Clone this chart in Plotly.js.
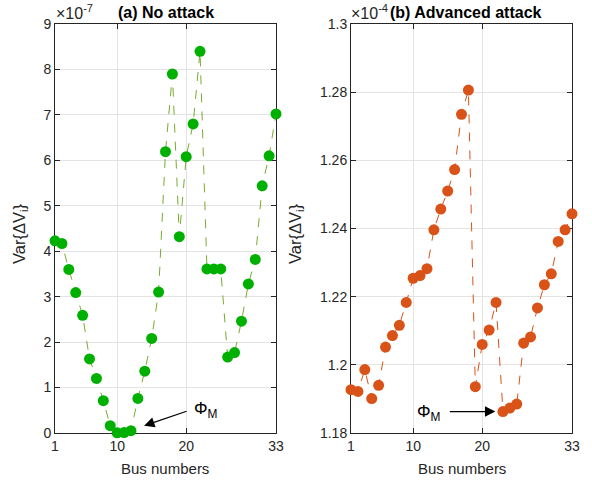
<!DOCTYPE html>
<html><head><meta charset="utf-8">
<script src="https://cdn.plot.ly/plotly-3.0.1.min.js"></script>
<style>html,body{margin:0;padding:0;background:#fff}#chart{width:592px;height:481px}</style>
</head><body><div id="chart"></div>
<script>
const buses = Array.from({length:33},(_,i)=>i+1);
// (a) No attack, Var{ΔV_i} in units of 1e-7
const noAttack = [4.23,4.17,3.60,3.09,2.59,1.63,1.20,0.71,0.16,0.005,0.01,0.05,0.76,1.36,2.08,3.10,6.19,7.90,4.32,6.08,6.80,8.40,3.61,3.61,3.61,1.67,1.77,2.46,3.28,3.82,5.44,6.10,7.02];
// (b) Advanced attack, Var{ΔV_i} in units of 1e-4
const advAttack = [1.1927,1.1922,1.1986,1.1901,1.1940,1.2052,1.2086,1.2116,1.2183,1.2254,1.2262,1.2282,1.2396,1.2457,1.2510,1.2573,1.2735,1.2806,1.1936,1.2060,1.2102,1.2183,1.1863,1.1873,1.1885,1.2064,1.2082,1.2167,1.2235,1.2267,1.2362,1.2396,1.2443];
const xTicks = [1,10,20,33];
const yTicksA = [0,1,2,3,4,5,6,7,8,9];
const yTicksB = [1.18,1.2,1.22,1.24,1.26,1.28,1.3];
const yTickTextB = ['1.18','1.2','1.22','1.24','1.26','1.28','1.3'];

const fam = 'Liberation Sans, Arial, Helvetica, sans-serif';
const font = {family:fam, size:14, color:'#262626'};
const labFont = {family:fam, size:15, color:'#262626'};
const yLabFont = {family:fam, size:16.5, color:'#262626'};
const expFont = {family:fam, size:16, color:'#262626'};
const titleFont = {family:fam, size:16, color:'#000'};
const phiFont = {family:fam, size:17, color:'#000'};
const traces = [
 {x:buses, y:noAttack, xaxis:'x', yaxis:'y', mode:'lines+markers', cliponaxis:false,
  line:{color:'#77ac30', width:1, dash:'dash'},
  marker:{color:'#00b000', size:11}},
 {x:buses, y:advAttack, xaxis:'x2', yaxis:'y2', mode:'lines+markers', cliponaxis:false,
  line:{color:'#d95319', width:1, dash:'dash'},
  marker:{color:'#d95319', size:11}}
];
const ax = {showline:true, mirror:'ticks', linecolor:'#262626', linewidth:1, ticks:'inside', ticklen:5, tickcolor:'#262626',
  showgrid:true, gridcolor:'#e3e3e3', gridwidth:1, zeroline:false, tickfont:font, layer:'below traces'};
const yDom = [48/481, 457/481];
const layout = {
 width:592, height:481, margin:{l:0,r:0,t:0,b:0}, showlegend:false,
 paper_bgcolor:'#fff', plot_bgcolor:'#fff', font:font,
 xaxis:Object.assign({}, ax, {domain:[55/592,276/592], range:[1,33], tickvals:xTicks, anchor:'y'}),
 yaxis:Object.assign({}, ax, {domain:yDom, range:[0,9], tickvals:yTicksA, anchor:'x'}),
 xaxis2:Object.assign({}, ax, {domain:[351/592,572/592], range:[1,33], tickvals:xTicks, anchor:'y2'}),
 yaxis2:Object.assign({}, ax, {domain:yDom, range:[1.18,1.30], tickvals:yTicksB, ticktext:yTickTextB, anchor:'x2'}),
 annotations:[
  {xref:'paper', yref:'paper', x:166/592, y:1-13/481, text:'<b>(a) No attack</b>', showarrow:false, font:titleFont, xanchor:'center', yanchor:'middle'},
  {xref:'paper', yref:'paper', x:466/592, y:1-13/481, text:'<b>(b) Advanced attack</b>', showarrow:false, font:titleFont, xanchor:'center', yanchor:'middle'},
  {xref:'paper', yref:'paper', x:54/592, y:1-12/481, text:'×10<sup>-7</sup>', showarrow:false, font:expFont, xanchor:'left', yanchor:'middle'},
  {xref:'paper', yref:'paper', x:349/592, y:1-12/481, text:'×10<sup>-4</sup>', showarrow:false, font:expFont, xanchor:'left', yanchor:'middle'},
  {xref:'paper', yref:'paper', x:165/592, y:1-468/481, text:'Bus numbers', showarrow:false, font:labFont, xanchor:'center', yanchor:'middle'},
  {xref:'paper', yref:'paper', x:462/592, y:1-468/481, text:'Bus numbers', showarrow:false, font:labFont, xanchor:'center', yanchor:'middle'},
  {xref:'paper', yref:'paper', x:20/592, y:1-234/481, text:'Var{ΔV<sub>i</sub>}', textangle:-90, showarrow:false, font:yLabFont, xanchor:'center', yanchor:'middle'},
  {xref:'paper', yref:'paper', x:296/592, y:1-234/481, text:'Var{ΔV<sub>i</sub>}', textangle:-90, showarrow:false, font:yLabFont, xanchor:'center', yanchor:'middle'},
  {xref:'x', yref:'y', x:13.9, y:0.16, ax:44, ay:-15, text:'', showarrow:true, arrowhead:2, arrowsize:1.6, arrowwidth:1.3, arrowcolor:'#000'},
  {xref:'paper', yref:'paper', x:192/592, y:1-410/481, text:'Φ<sub>M</sub>', showarrow:false, font:phiFont, xanchor:'left', yanchor:'middle'},
  {xref:'paper', yref:'paper', x:415/592, y:1-413/481, text:'Φ<sub>M</sub>', showarrow:false, font:phiFont, xanchor:'left', yanchor:'middle'},
  {xref:'x2', yref:'y2', x:21.9, y:1.1863, ax:-47, ay:0, text:'', showarrow:true, arrowhead:2, arrowsize:1.6, arrowwidth:1.3, arrowcolor:'#000'}
 ]
};
Plotly.newPlot('chart', traces, layout, {staticPlot:true, displayModeBar:false});
</script></body></html>
